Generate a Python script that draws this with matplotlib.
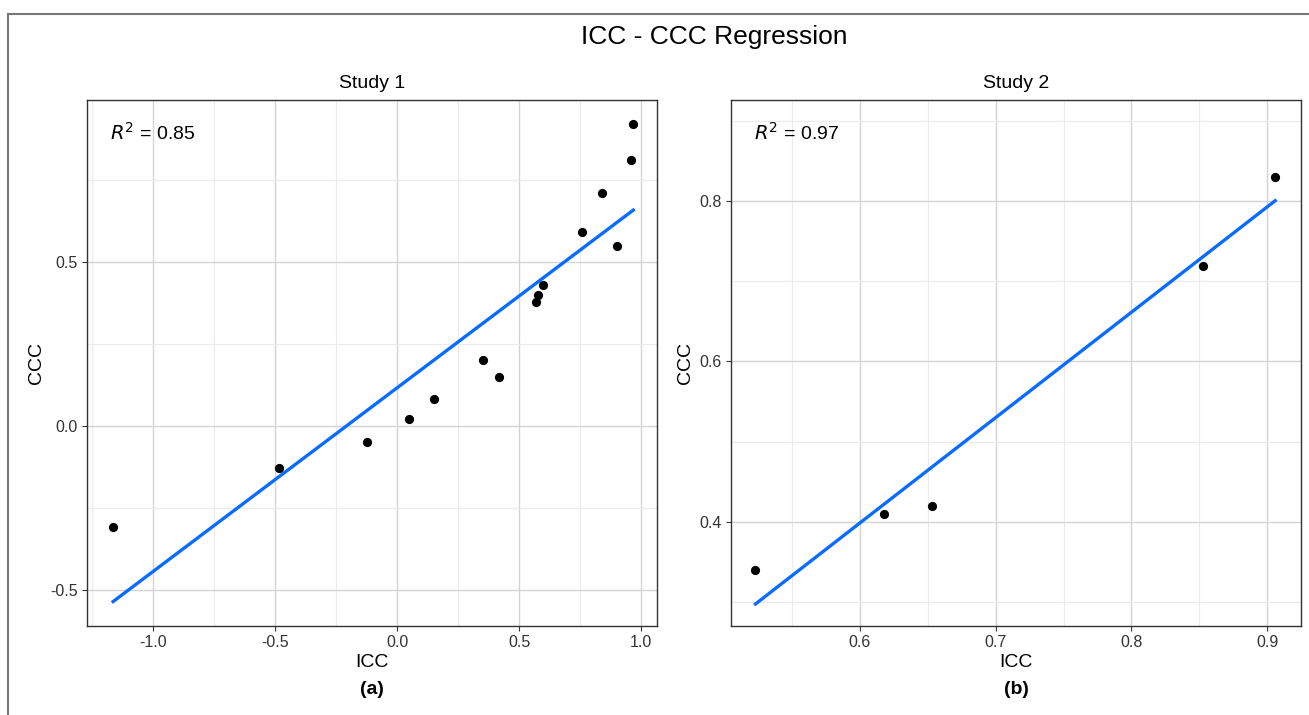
import matplotlib.pyplot as plt
import numpy as np
from matplotlib.lines import Line2D
from matplotlib.ticker import MultipleLocator

# Study 1 points (ICC, CCC)
icc1 = [-1.163, -0.483, -0.122, 0.050, 0.151, 0.354, 0.418, 0.570, 0.576,
        0.600, 0.757, 0.840, 0.903, 0.957, 0.968]
ccc1 = [-0.308, -0.129, -0.050, 0.020, 0.081, 0.200, 0.149, 0.379, 0.400,
        0.430, 0.590, 0.710, 0.550, 0.810, 0.921]
# Study 2 points
icc2 = [0.523, 0.618, 0.653, 0.853, 0.906]
ccc2 = [0.340, 0.410, 0.420, 0.719, 0.830]

r2_labels = ["0.85", "0.97"]
titles = ["Study 1", "Study 2"]
panel_tags = ["(a)", "(b)"]

LINE_BLUE = "#0A6CFF"
W, H = 1309, 715

fig = plt.figure(figsize=(W / 100, H / 100), dpi=100)
plt.rcParams["font.family"] = ["Liberation Sans", "DejaVu Sans"]

# outer frame (top + left edge only visible)
fig.add_artist(Line2D([8 / W, 8 / W], [0, 1 - 14 / H], transform=fig.transFigure,
                      color="#777777", lw=1.5))
fig.add_artist(Line2D([8 / W, 1], [1 - 14 / H, 1 - 14 / H], transform=fig.transFigure,
                      color="#777777", lw=1.5))

fig.text(714 / W, 1 - 37 / H, "ICC - CCC Regression", ha="center", va="center", fontsize=19)

boxes = [(87, 657), (731, 1301)]
settings = [
    dict(xmaj=0.5, xmin=0.25, ymaj=0.5, ymin=0.25, xlim=(-1.27, 1.065), ylim=(-0.61, 0.994)),
    dict(xmaj=0.1, xmin=0.05, ymaj=0.2, ymin=0.1, xlim=(0.505, 0.925), ylim=(0.27, 0.926)),
]

for i, (xs, ys) in enumerate([(icc1, ccc1), (icc2, ccc2)]):
    l, r = boxes[i]
    ax = fig.add_axes([l / W, 1 - 626 / H, (r - l) / W, (626 - 100) / H])
    s = settings[i]
    x = np.array(xs)
    y = np.array(ys)
    slope, inter = np.polyfit(x, y, 1)
    xl = np.array([x.min(), x.max()])
    ax.plot(xl, slope * xl + inter, color=LINE_BLUE, lw=2.4, zorder=3)
    ax.scatter(x, y, s=44, color="black", zorder=4, linewidths=0)

    ax.set_xlim(*s["xlim"])
    ax.set_ylim(*s["ylim"])
    ax.xaxis.set_major_locator(MultipleLocator(s["xmaj"]))
    ax.xaxis.set_minor_locator(MultipleLocator(s["xmin"]))
    ax.yaxis.set_major_locator(MultipleLocator(s["ymaj"]))
    ax.yaxis.set_minor_locator(MultipleLocator(s["ymin"]))
    ax.xaxis.set_major_formatter(lambda v, p: f"{v:.1f}")
    ax.yaxis.set_major_formatter(lambda v, p: f"{v:.1f}")
    ax.grid(which="major", color="#d4d4d4", lw=1.0)
    ax.grid(which="minor", color="#ebebeb", lw=0.8)
    ax.set_axisbelow(True)
    ax.tick_params(which="major", length=3.5, width=0.8, color="#333333",
                   labelsize=11.5, labelcolor="#333333", pad=3)
    ax.tick_params(which="minor", length=0)
    for sp in ax.spines.values():
        sp.set_color("#333333")
        sp.set_linewidth(1.0)

    ax.set_title(titles[i], fontsize=14, pad=9)
    ax.set_xlabel("ICC", fontsize=14, labelpad=3)
    ax.set_ylabel("CCC", fontsize=14, labelpad=4)
    ax.text(0.04, 0.937, r"$\it{R}^2$ = " + r2_labels[i], transform=ax.transAxes,
            fontsize=14, va="center", ha="left")
    fig.text((l + r) / 2 / W, 1 - 690 / H, panel_tags[i], ha="center", va="center",
             fontsize=14, fontweight="bold")

fig.savefig("out.png", dpi=100)
